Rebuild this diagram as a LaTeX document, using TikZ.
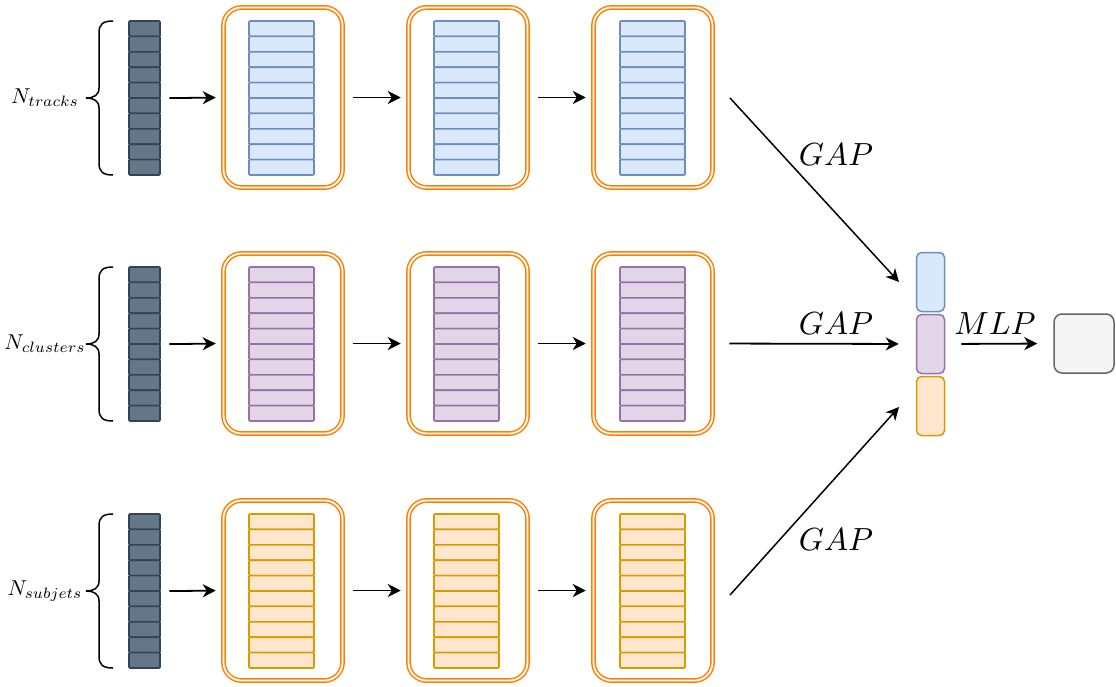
\documentclass[tikz,border=0pt]{standalone}
\usepackage{graphicx}
\usetikzlibrary{arrows.meta,calc}
\definecolor{dkfill}{HTML}{647687}
\definecolor{dkline}{HTML}{314354}
\definecolor{blfill}{HTML}{DAE8FC}
\definecolor{blline}{HTML}{6C8EBF}
\definecolor{pufill}{HTML}{E1D5E7}
\definecolor{puline}{HTML}{9673A6}
\definecolor{orfill}{HTML}{FFE6CC}
\definecolor{orline}{HTML}{D79B00}
\definecolor{gyfill}{HTML}{F5F5F5}
\definecolor{gyline}{HTML}{666666}
\definecolor{boxorange}{HTML}{FF8000}
\tikzset{
  dkcell/.style={fill=dkfill,draw=dkline,line width=1.6pt},
  blcell/.style={fill=blfill,draw=blline,line width=1.6pt},
  pucell/.style={fill=pufill,draw=puline,line width=1.6pt},
  orcell/.style={fill=orfill,draw=orline,line width=1.6pt},
  obox/.style={draw=boxorange,double=white,double distance=1.8pt,line width=1.5pt,
    rounded corners=18pt,minimum width=119pt,minimum height=180pt,inner sep=0pt},
  arr/.style={-{Stealth[length=13pt,width=13pt,inset=4pt]},line width=1.8pt},
  darr/.style={-{Stealth[length=13pt,width=13pt,inset=4pt]},line width=1.5pt},
  brc/.style={line width=1.5pt},
  lab/.style={inner sep=0pt},
  big/.style={inner sep=0pt},
  concat/.style={line width=1.5pt,rounded corners=5pt,minimum width=28pt,minimum height=59pt,inner sep=0pt},
}
\newcommand\cellstack[5]{%
  \node[draw=none,fill=none,minimum width=#4pt,minimum height=154pt,anchor=north west,inner sep=0pt] (#1) at (#2,#3) {};
  \foreach \i in {0,...,9} {\draw[#5,rounded corners=1pt] ($(#1.north west)+(0,\i*15.4)$) rectangle ++(#4,15.4);}
}
\begin{document}
\begin{tikzpicture}[x=1pt,y=-1pt]
\useasboundingbox (0,0) rectangle (1116,686);
\foreach \r/\yt/\st/\lb in {1/21/blcell/tracks,2/267/pucell/clusters,3/514/orcell/subjets}{
  \pgfmathsetmacro\ym{\yt+77}
  \pgfmathsetmacro\yb{\yt+154}
  % input stack
  \cellstack{d\r}{129}{\yt}{31}{dkcell}
  % label
  \node[lab] (l\r) at (45,\ym) {\scalebox{2.15}{$N_{\lb}$}};
  % brace
  \draw[brc] (113,\yt) .. controls (103,\yt) and (99,\yt+3) .. (99,\yt+12)
     -- (99,\ym-10) .. controls (99,\ym-3) and (94,\ym) .. (86,\ym)
     .. controls (94,\ym) and (99,\ym+3) .. (99,\ym+10)
     -- (99,\yb-12) .. controls (99,\yb-3) and (103,\yb) .. (113,\yb);
  % boxes
  \node[obox] (b\r1) at (283,\ym-0.5) {};
  \node[obox] (b\r2) at (468,\ym-0.5) {};
  \node[obox] (b\r3) at (653,\ym-0.5) {};
  \cellstack{s\r1}{249}{\yt}{65}{\st}
  \cellstack{s\r2}{434}{\yt}{65}{\st}
  \cellstack{s\r3}{620}{\yt}{65}{\st}
  % arrows
  \draw[arr,shorten <=9pt,shorten >=7pt] (d\r.east) -- (b\r1.west);
  \draw[arr,shorten <=10pt,shorten >=7pt] (b\r1.east) -- (b\r2.west);
  \draw[arr,shorten <=10pt,shorten >=7pt] (b\r2.east) -- (b\r3.west);
}
% concatenated vector
\node[concat,draw=blline,fill=blfill] (c1) at (930.5,282) {};
\node[concat,draw=puline,fill=pufill] (c2) at (930.5,344) {};
\node[concat,draw=orline,fill=orfill] (c3) at (930.5,406) {};
\node[draw=gyline,fill=gyfill,line width=1.5pt,rounded corners=8pt,minimum width=60pt,minimum height=59pt,inner sep=0pt] (out) at (1084,343.5) {};
% GAP arrows
\coordinate (g1s) at (730,98);
\coordinate (g1e) at (899,282);
\coordinate (g3s) at (730,595);
\coordinate (g3e) at (899,407);
\draw[darr] (g1s) -- (g1e);
\draw[arr,shorten <=16pt,shorten >=17pt] (b23.east) -- (c2.west);
\draw[darr] (g3s) -- (g3e);
\draw[arr,shorten <=16pt,shorten >=16pt] (c2.east) -- (out.west);
% labels
\node[big] (t1) at (836,155) {\scalebox{3.2}{$GAP$}};
\node[big] (t2) at (836,324) {\scalebox{3.2}{$GAP$}};
\node[big] (t3) at (836,540) {\scalebox{3.2}{$GAP$}};
\node[big] (t4) at (995,324) {\scalebox{3.2}{$MLP$}};
\end{tikzpicture}
\end{document}
